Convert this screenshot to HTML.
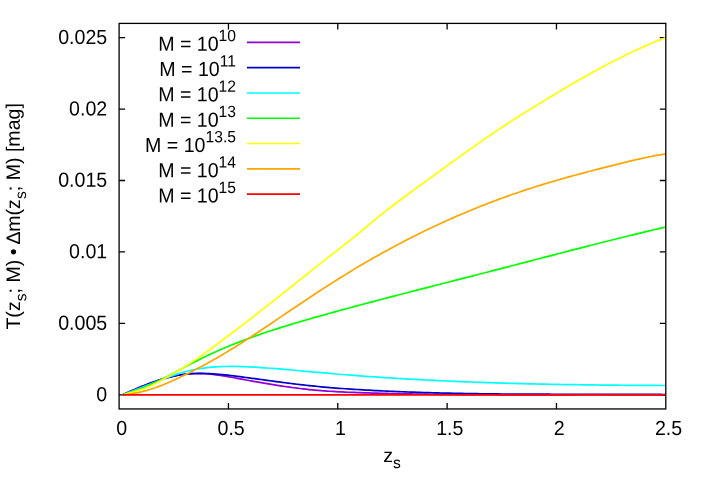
<!DOCTYPE html>
<html><head><meta charset="utf-8"><title>plot</title>
<style>html,body{margin:0;padding:0;background:#fff}svg{display:block;will-change:transform}text{font-family:"Liberation Sans",sans-serif;fill:#000}</style></head><body>
<svg width="701" height="491" viewBox="0 0 701 491">
<rect width="701" height="491" fill="#fff"/>
<path d="M119.10 394.80h6M665.80 394.80h-6M119.10 323.37h6M665.80 323.37h-6M119.10 251.94h6M665.80 251.94h-6M119.10 180.51h6M665.80 180.51h-6M119.10 109.08h6M665.80 109.08h-6M119.10 37.65h6M665.80 37.65h-6M228.44 408.95v-6M228.44 23.40v6M337.78 408.95v-6M337.78 23.40v6M447.12 408.95v-6M447.12 23.40v6M556.46 408.95v-6M556.46 23.40v6" stroke="#000" stroke-width="1.3" fill="none"/>
<text font-size="19.6" text-anchor="end" transform="translate(107.20 401.15) rotate(0.04) scale(1 1.04)">0</text>
<text font-size="19.6" text-anchor="end" transform="translate(107.20 329.72) rotate(0.04) scale(1 1.04)">0.005</text>
<text font-size="19.6" text-anchor="end" transform="translate(107.20 258.29) rotate(0.04) scale(1 1.04)">0.01</text>
<text font-size="19.6" text-anchor="end" transform="translate(107.20 186.86) rotate(0.04) scale(1 1.04)">0.015</text>
<text font-size="19.6" text-anchor="end" transform="translate(107.20 115.43) rotate(0.04) scale(1 1.04)">0.02</text>
<text font-size="19.6" text-anchor="end" transform="translate(107.20 44.00) rotate(0.04) scale(1 1.04)">0.025</text>
<text font-size="19.6" text-anchor="middle" transform="translate(121.80 435.00) rotate(0.04) scale(1 1.04)">0</text>
<text font-size="19.6" text-anchor="middle" transform="translate(231.14 435.00) rotate(0.04) scale(1 1.04)">0.5</text>
<text font-size="19.6" text-anchor="middle" transform="translate(340.48 435.00) rotate(0.04) scale(1 1.04)">1</text>
<text font-size="19.6" text-anchor="middle" transform="translate(449.82 435.00) rotate(0.04) scale(1 1.04)">1.5</text>
<text font-size="19.6" text-anchor="middle" transform="translate(559.16 435.00) rotate(0.04) scale(1 1.04)">2</text>
<text font-size="19.6" text-anchor="middle" transform="translate(668.50 435.00) rotate(0.04) scale(1 1.04)">2.5</text>
<path d="M123.0 394.60L126.0 393.22L129.0 391.86L132.0 390.51L135.0 389.19L138.0 387.90L141.0 386.64L144.0 385.42L147.0 384.23L150.0 383.09L153.0 382.00L156.0 380.96L159.0 379.97L162.0 379.04L165.0 378.17L168.0 377.37L171.0 376.64L174.0 375.98L177.0 375.40L180.0 374.90L183.0 374.47L186.0 374.13L189.0 373.87L192.0 373.69L195.0 373.59L198.0 373.56L201.0 373.61L204.0 373.73L207.0 373.93L210.0 374.18L213.0 374.49L216.0 374.86L219.0 375.26L222.0 375.71L225.0 376.19L228.0 376.69L231.0 377.22L234.0 377.76L237.0 378.31L240.0 378.87L243.0 379.42L246.0 379.97L249.0 380.52L252.0 381.06L255.0 381.59L258.0 382.12L261.0 382.65L264.0 383.16L267.0 383.67L270.0 384.17L273.0 384.66L276.0 385.14L279.0 385.61L282.0 386.06L285.0 386.51L288.0 386.94L291.0 387.36L294.0 387.76L297.0 388.15L300.0 388.52L303.0 388.87L306.0 389.21L309.0 389.53L312.0 389.83L315.0 390.11L318.0 390.38L321.0 390.62L324.0 390.86L327.0 391.07L330.0 391.27L333.0 391.46L336.0 391.64L339.0 391.80L342.0 391.95L345.0 392.09L348.0 392.23L351.0 392.35L354.0 392.47L357.0 392.58L360.0 392.68L363.0 392.78L366.0 392.87L369.0 392.96L372.0 393.04L375.0 393.13L378.0 393.21L381.0 393.29L384.0 393.36L387.0 393.44L390.0 393.51L393.0 393.58L396.0 393.64L399.0 393.71L402.0 393.77L405.0 393.83L408.0 393.89L411.0 393.94L414.0 393.99L417.0 394.04L420.0 394.09L423.0 394.14L426.0 394.19L429.0 394.23L432.0 394.27L435.0 394.31L438.0 394.35L441.0 394.38L444.0 394.42L447.0 394.45L450.0 394.48L453.0 394.51L456.0 394.54L459.0 394.56L462.0 394.59L465.0 394.61L468.0 394.63L471.0 394.65L474.0 394.67L477.0 394.69L480.0 394.70L483.0 394.72L486.0 394.73L489.0 394.75L492.0 394.76L495.0 394.77L498.0 394.78L501.0 394.79L504.0 394.79L507.0 394.80L510.0 394.81L513.0 394.81L516.0 394.81L519.0 394.82L522.0 394.82L525.0 394.82L528.0 394.82L531.0 394.82L534.0 394.82L537.0 394.82L540.0 394.82L543.0 394.82L546.0 394.82L549.0 394.81L552.0 394.81L555.0 394.81L558.0 394.80L561.0 394.80L564.0 394.80L567.0 394.79L570.0 394.79L573.0 394.78L576.0 394.78L579.0 394.77L582.0 394.77L585.0 394.76L588.0 394.76L591.0 394.76L594.0 394.75L597.0 394.75L600.0 394.74L603.0 394.74L606.0 394.74L609.0 394.73L612.0 394.73L615.0 394.73L618.0 394.73L621.0 394.73L624.0 394.73L627.0 394.73L630.0 394.73L633.0 394.73L636.0 394.73L639.0 394.74L642.0 394.74L645.0 394.74L648.0 394.75L651.0 394.76L654.0 394.76L657.0 394.77L660.0 394.78L663.0 394.79L665.8 394.80" stroke="#9400d3" stroke-width="1.7" fill="none" stroke-linejoin="round"/>
<path d="M123.0 394.60L126.0 393.34L129.0 392.07L132.0 390.80L135.0 389.54L138.0 388.28L141.0 387.05L144.0 385.84L147.0 384.65L150.0 383.50L153.0 382.38L156.0 381.31L159.0 380.29L162.0 379.32L165.0 378.42L168.0 377.57L171.0 376.80L174.0 376.11L177.0 375.50L180.0 374.97L183.0 374.53L186.0 374.16L189.0 373.88L192.0 373.66L195.0 373.51L198.0 373.43L201.0 373.40L204.0 373.43L207.0 373.51L210.0 373.64L213.0 373.82L216.0 374.03L219.0 374.28L222.0 374.56L225.0 374.87L228.0 375.21L231.0 375.56L234.0 375.93L237.0 376.32L240.0 376.71L243.0 377.10L246.0 377.50L249.0 377.90L252.0 378.31L255.0 378.71L258.0 379.12L261.0 379.53L264.0 379.94L267.0 380.35L270.0 380.75L273.0 381.15L276.0 381.55L279.0 381.95L282.0 382.34L285.0 382.73L288.0 383.12L291.0 383.49L294.0 383.86L297.0 384.22L300.0 384.58L303.0 384.92L306.0 385.26L309.0 385.59L312.0 385.90L315.0 386.21L318.0 386.50L321.0 386.78L324.0 387.06L327.0 387.32L330.0 387.58L333.0 387.82L336.0 388.06L339.0 388.29L342.0 388.52L345.0 388.73L348.0 388.94L351.0 389.14L354.0 389.33L357.0 389.52L360.0 389.70L363.0 389.88L366.0 390.05L369.0 390.22L372.0 390.38L375.0 390.54L378.0 390.69L381.0 390.84L384.0 390.99L387.0 391.13L390.0 391.26L393.0 391.40L396.0 391.52L399.0 391.65L402.0 391.77L405.0 391.89L408.0 392.00L411.0 392.11L414.0 392.21L417.0 392.32L420.0 392.41L423.0 392.51L426.0 392.60L429.0 392.69L432.0 392.77L435.0 392.86L438.0 392.94L441.0 393.01L444.0 393.08L447.0 393.15L450.0 393.22L453.0 393.29L456.0 393.35L459.0 393.41L462.0 393.46L465.0 393.52L468.0 393.57L471.0 393.61L474.0 393.66L477.0 393.70L480.0 393.75L483.0 393.79L486.0 393.82L489.0 393.86L492.0 393.89L495.0 393.92L498.0 393.95L501.0 393.98L504.0 394.01L507.0 394.03L510.0 394.05L513.0 394.07L516.0 394.09L519.0 394.11L522.0 394.13L525.0 394.14L528.0 394.16L531.0 394.17L534.0 394.18L537.0 394.19L540.0 394.20L543.0 394.21L546.0 394.22L549.0 394.22L552.0 394.23L555.0 394.23L558.0 394.24L561.0 394.24L564.0 394.25L567.0 394.25L570.0 394.25L573.0 394.26L576.0 394.26L579.0 394.26L582.0 394.26L585.0 394.26L588.0 394.26L591.0 394.27L594.0 394.27L597.0 394.27L600.0 394.27L603.0 394.27L606.0 394.28L609.0 394.28L612.0 394.28L615.0 394.29L618.0 394.29L621.0 394.30L624.0 394.30L627.0 394.31L630.0 394.32L633.0 394.33L636.0 394.34L639.0 394.35L642.0 394.36L645.0 394.37L648.0 394.39L651.0 394.40L654.0 394.42L657.0 394.44L660.0 394.46L663.0 394.48L665.8 394.50" stroke="#0000cd" stroke-width="1.7" fill="none" stroke-linejoin="round"/>
<path d="M123.0 394.70L126.0 393.53L129.0 392.36L132.0 391.19L135.0 390.03L138.0 388.87L141.0 387.71L144.0 386.55L147.0 385.39L150.0 384.22L153.0 383.06L156.0 381.89L159.0 380.71L162.0 379.55L165.0 378.40L168.0 377.27L171.0 376.18L174.0 375.13L177.0 374.13L180.0 373.19L183.0 372.32L186.0 371.51L189.0 370.78L192.0 370.12L195.0 369.52L198.0 368.98L201.0 368.50L204.0 368.07L207.0 367.70L210.0 367.39L213.0 367.12L216.0 366.90L219.0 366.72L222.0 366.59L225.0 366.49L228.0 366.44L231.0 366.42L234.0 366.43L237.0 366.47L240.0 366.54L243.0 366.63L246.0 366.75L249.0 366.89L252.0 367.04L255.0 367.22L258.0 367.40L261.0 367.60L264.0 367.80L267.0 368.02L270.0 368.24L273.0 368.47L276.0 368.70L279.0 368.94L282.0 369.19L285.0 369.45L288.0 369.70L291.0 369.96L294.0 370.23L297.0 370.50L300.0 370.77L303.0 371.04L306.0 371.31L309.0 371.59L312.0 371.86L315.0 372.14L318.0 372.41L321.0 372.68L324.0 372.95L327.0 373.21L330.0 373.47L333.0 373.73L336.0 373.99L339.0 374.24L342.0 374.48L345.0 374.73L348.0 374.97L351.0 375.20L354.0 375.43L357.0 375.66L360.0 375.89L363.0 376.11L366.0 376.32L369.0 376.54L372.0 376.75L375.0 376.96L378.0 377.16L381.0 377.36L384.0 377.56L387.0 377.75L390.0 377.94L393.0 378.13L396.0 378.32L399.0 378.50L402.0 378.68L405.0 378.85L408.0 379.03L411.0 379.20L414.0 379.36L417.0 379.53L420.0 379.69L423.0 379.85L426.0 380.00L429.0 380.16L432.0 380.31L435.0 380.45L438.0 380.60L441.0 380.74L444.0 380.88L447.0 381.01L450.0 381.15L453.0 381.28L456.0 381.41L459.0 381.53L462.0 381.66L465.0 381.78L468.0 381.90L471.0 382.01L474.0 382.13L477.0 382.24L480.0 382.35L483.0 382.45L486.0 382.56L489.0 382.66L492.0 382.76L495.0 382.85L498.0 382.95L501.0 383.04L504.0 383.13L507.0 383.22L510.0 383.31L513.0 383.39L516.0 383.47L519.0 383.55L522.0 383.63L525.0 383.71L528.0 383.78L531.0 383.86L534.0 383.93L537.0 383.99L540.0 384.06L543.0 384.13L546.0 384.19L549.0 384.25L552.0 384.31L555.0 384.37L558.0 384.42L561.0 384.48L564.0 384.53L567.0 384.58L570.0 384.63L573.0 384.68L576.0 384.72L579.0 384.77L582.0 384.81L585.0 384.85L588.0 384.89L591.0 384.93L594.0 384.97L597.0 385.00L600.0 385.04L603.0 385.07L606.0 385.10L609.0 385.13L612.0 385.16L615.0 385.19L618.0 385.22L621.0 385.24L624.0 385.27L627.0 385.29L630.0 385.31L633.0 385.33L636.0 385.35L639.0 385.37L642.0 385.39L645.0 385.41L648.0 385.42L651.0 385.44L654.0 385.45L657.0 385.47L660.0 385.48L663.0 385.49L665.8 385.50" stroke="#00ffff" stroke-width="1.7" fill="none" stroke-linejoin="round"/>
<path d="M123.0 394.70L126.0 393.82L129.0 392.89L132.0 391.91L135.0 390.89L138.0 389.81L141.0 388.68L144.0 387.50L147.0 386.27L150.0 384.98L153.0 383.63L156.0 382.23L159.0 380.77L162.0 379.26L165.0 377.72L168.0 376.14L171.0 374.53L174.0 372.91L177.0 371.27L180.0 369.64L183.0 368.01L186.0 366.39L189.0 364.79L192.0 363.22L195.0 361.67L198.0 360.16L201.0 358.68L204.0 357.22L207.0 355.79L210.0 354.39L213.0 353.02L216.0 351.67L219.0 350.34L222.0 349.04L225.0 347.76L228.0 346.51L231.0 345.28L234.0 344.07L237.0 342.88L240.0 341.71L243.0 340.57L246.0 339.44L249.0 338.33L252.0 337.24L255.0 336.16L258.0 335.11L261.0 334.06L264.0 333.04L267.0 332.03L270.0 331.03L273.0 330.05L276.0 329.08L279.0 328.13L282.0 327.18L285.0 326.25L288.0 325.33L291.0 324.42L294.0 323.52L297.0 322.62L300.0 321.74L303.0 320.86L306.0 319.99L309.0 319.13L312.0 318.27L315.0 317.42L318.0 316.57L321.0 315.73L324.0 314.89L327.0 314.05L330.0 313.22L333.0 312.39L336.0 311.56L339.0 310.74L342.0 309.92L345.0 309.10L348.0 308.28L351.0 307.47L354.0 306.66L357.0 305.86L360.0 305.05L363.0 304.25L366.0 303.45L369.0 302.65L372.0 301.86L375.0 301.07L378.0 300.28L381.0 299.49L384.0 298.70L387.0 297.92L390.0 297.14L393.0 296.35L396.0 295.57L399.0 294.80L402.0 294.02L405.0 293.24L408.0 292.47L411.0 291.70L414.0 290.92L417.0 290.15L420.0 289.38L423.0 288.61L426.0 287.84L429.0 287.08L432.0 286.31L435.0 285.54L438.0 284.77L441.0 284.01L444.0 283.24L447.0 282.48L450.0 281.71L453.0 280.94L456.0 280.18L459.0 279.41L462.0 278.64L465.0 277.88L468.0 277.11L471.0 276.34L474.0 275.57L477.0 274.80L480.0 274.03L483.0 273.26L486.0 272.49L489.0 271.72L492.0 270.94L495.0 270.17L498.0 269.39L501.0 268.62L504.0 267.84L507.0 267.06L510.0 266.28L513.0 265.50L516.0 264.72L519.0 263.94L522.0 263.16L525.0 262.38L528.0 261.59L531.0 260.81L534.0 260.03L537.0 259.25L540.0 258.47L543.0 257.69L546.0 256.91L549.0 256.13L552.0 255.35L555.0 254.57L558.0 253.79L561.0 253.01L564.0 252.23L567.0 251.46L570.0 250.68L573.0 249.91L576.0 249.14L579.0 248.37L582.0 247.60L585.0 246.83L588.0 246.06L591.0 245.30L594.0 244.53L597.0 243.77L600.0 243.01L603.0 242.25L606.0 241.50L609.0 240.74L612.0 239.99L615.0 239.24L618.0 238.50L621.0 237.75L624.0 237.01L627.0 236.27L630.0 235.54L633.0 234.80L636.0 234.07L639.0 233.35L642.0 232.62L645.0 231.90L648.0 231.19L651.0 230.47L654.0 229.76L657.0 229.05L660.0 228.35L663.0 227.65L665.8 227.00" stroke="#00ff00" stroke-width="1.7" fill="none" stroke-linejoin="round"/>
<path d="M123.0 394.80L126.0 393.97L129.0 393.14L132.0 392.30L135.0 391.42L138.0 390.50L141.0 389.51L144.0 388.44L147.0 387.27L150.0 385.99L153.0 384.61L156.0 383.14L159.0 381.60L162.0 380.00L165.0 378.37L168.0 376.71L171.0 375.03L174.0 373.31L177.0 371.55L180.0 369.76L183.0 367.93L186.0 366.05L189.0 364.13L192.0 362.16L195.0 360.14L198.0 358.08L201.0 355.97L204.0 353.84L207.0 351.68L210.0 349.48L213.0 347.27L216.0 345.04L219.0 342.80L222.0 340.55L225.0 338.30L228.0 336.03L231.0 333.76L234.0 331.48L237.0 329.20L240.0 326.91L243.0 324.61L246.0 322.30L249.0 319.99L252.0 317.67L255.0 315.35L258.0 313.02L261.0 310.68L264.0 308.33L267.0 305.98L270.0 303.63L273.0 301.26L276.0 298.90L279.0 296.52L282.0 294.14L285.0 291.75L288.0 289.36L291.0 286.97L294.0 284.57L297.0 282.17L300.0 279.77L303.0 277.38L306.0 274.98L309.0 272.59L312.0 270.19L315.0 267.81L318.0 265.43L321.0 263.06L324.0 260.69L327.0 258.33L330.0 255.98L333.0 253.65L336.0 251.32L339.0 249.01L342.0 246.70L345.0 244.38L348.0 242.04L351.0 239.67L354.0 237.24L357.0 234.78L360.0 232.28L363.0 229.77L366.0 227.25L369.0 224.72L372.0 222.21L375.0 219.71L378.0 217.24L381.0 214.81L384.0 212.43L387.0 210.08L390.0 207.76L393.0 205.47L396.0 203.20L399.0 200.95L402.0 198.71L405.0 196.49L408.0 194.27L411.0 192.05L414.0 189.85L417.0 187.65L420.0 185.46L423.0 183.27L426.0 181.09L429.0 178.91L432.0 176.73L435.0 174.55L438.0 172.37L441.0 170.20L444.0 168.02L447.0 165.84L450.0 163.67L453.0 161.50L456.0 159.33L459.0 157.16L462.0 155.01L465.0 152.85L468.0 150.71L471.0 148.57L474.0 146.45L477.0 144.33L480.0 142.23L483.0 140.13L486.0 138.06L489.0 135.99L492.0 133.95L495.0 131.91L498.0 129.90L501.0 127.90L504.0 125.93L507.0 123.97L510.0 122.03L513.0 120.10L516.0 118.19L519.0 116.29L522.0 114.40L525.0 112.53L528.0 110.66L531.0 108.80L534.0 106.96L537.0 105.11L540.0 103.28L543.0 101.45L546.0 99.62L549.0 97.80L552.0 95.99L555.0 94.19L558.0 92.39L561.0 90.60L564.0 88.82L567.0 87.04L570.0 85.28L573.0 83.53L576.0 81.79L579.0 80.06L582.0 78.35L585.0 76.64L588.0 74.95L591.0 73.28L594.0 71.61L597.0 69.97L600.0 68.33L603.0 66.72L606.0 65.12L609.0 63.54L612.0 61.97L615.0 60.43L618.0 58.90L621.0 57.40L624.0 55.91L627.0 54.44L630.0 53.00L633.0 51.58L636.0 50.17L639.0 48.80L642.0 47.44L645.0 46.11L648.0 44.81L651.0 43.53L654.0 42.27L657.0 41.04L660.0 39.84L663.0 38.67L665.8 37.60" stroke="#ffff00" stroke-width="1.7" fill="none" stroke-linejoin="round"/>
<path d="M123.0 394.80L126.0 394.51L129.0 394.15L132.0 393.71L135.0 393.19L138.0 392.61L141.0 391.94L144.0 391.20L147.0 390.39L150.0 389.50L153.0 388.54L156.0 387.51L159.0 386.40L162.0 385.23L165.0 384.00L168.0 382.73L171.0 381.41L174.0 380.06L177.0 378.68L180.0 377.27L183.0 375.84L186.0 374.38L189.0 372.90L192.0 371.38L195.0 369.85L198.0 368.28L201.0 366.69L204.0 365.08L207.0 363.44L210.0 361.78L213.0 360.10L216.0 358.39L219.0 356.66L222.0 354.90L225.0 353.12L228.0 351.33L231.0 349.51L234.0 347.66L237.0 345.80L240.0 343.92L243.0 342.02L246.0 340.10L249.0 338.16L252.0 336.20L255.0 334.23L258.0 332.25L261.0 330.26L264.0 328.25L267.0 326.24L270.0 324.22L273.0 322.20L276.0 320.16L279.0 318.13L282.0 316.09L285.0 314.06L288.0 312.02L291.0 309.99L294.0 307.96L297.0 305.94L300.0 303.92L303.0 301.92L306.0 299.92L309.0 297.92L312.0 295.94L315.0 293.97L318.0 292.01L321.0 290.06L324.0 288.12L327.0 286.19L330.0 284.27L333.0 282.36L336.0 280.47L339.0 278.59L342.0 276.72L345.0 274.86L348.0 273.02L351.0 271.19L354.0 269.38L357.0 267.58L360.0 265.79L363.0 264.02L366.0 262.27L369.0 260.53L372.0 258.81L375.0 257.10L378.0 255.41L381.0 253.73L384.0 252.07L387.0 250.42L390.0 248.79L393.0 247.17L396.0 245.57L399.0 243.98L402.0 242.41L405.0 240.85L408.0 239.31L411.0 237.78L414.0 236.26L417.0 234.76L420.0 233.28L423.0 231.81L426.0 230.35L429.0 228.91L432.0 227.48L435.0 226.07L438.0 224.67L441.0 223.29L444.0 221.92L447.0 220.56L450.0 219.22L453.0 217.90L456.0 216.58L459.0 215.28L462.0 214.00L465.0 212.73L468.0 211.47L471.0 210.23L474.0 209.00L477.0 207.78L480.0 206.58L483.0 205.39L486.0 204.21L489.0 203.05L492.0 201.90L495.0 200.77L498.0 199.65L501.0 198.54L504.0 197.45L507.0 196.37L510.0 195.30L513.0 194.24L516.0 193.20L519.0 192.18L522.0 191.16L525.0 190.16L528.0 189.17L531.0 188.19L534.0 187.23L537.0 186.28L540.0 185.35L543.0 184.42L546.0 183.51L549.0 182.61L552.0 181.72L555.0 180.84L558.0 179.98L561.0 179.12L564.0 178.27L567.0 177.43L570.0 176.60L573.0 175.78L576.0 174.96L579.0 174.16L582.0 173.36L585.0 172.56L588.0 171.77L591.0 170.99L594.0 170.21L597.0 169.43L600.0 168.66L603.0 167.89L606.0 167.12L609.0 166.36L612.0 165.60L615.0 164.84L618.0 164.08L621.0 163.33L624.0 162.59L627.0 161.86L630.0 161.14L633.0 160.43L636.0 159.73L639.0 159.05L642.0 158.39L645.0 157.74L648.0 157.11L651.0 156.51L654.0 155.93L657.0 155.37L660.0 154.84L663.0 154.34L665.8 153.90" stroke="#ffa500" stroke-width="1.7" fill="none" stroke-linejoin="round"/>
<path d="M123.0 394.8L665.8 394.8" stroke="#ff0000" stroke-width="1.7" fill="none" stroke-linejoin="round"/>
<text font-size="19.6" text-anchor="end" transform="translate(236.00 50.80) rotate(0.04) scale(1 1.04)">M = 10<tspan dy="-9.3" font-size="15.68">10</tspan></text>
<path d="M247 42.35H300" stroke="#9400d3" stroke-width="1.6" fill="none"/>
<text font-size="19.6" text-anchor="end" transform="translate(236.00 76.10) rotate(0.04) scale(1 1.04)">M = 10<tspan dy="-9.3" font-size="15.68">11</tspan></text>
<path d="M247 67.65H300" stroke="#0000cd" stroke-width="1.6" fill="none"/>
<text font-size="19.6" text-anchor="end" transform="translate(236.00 101.40) rotate(0.04) scale(1 1.04)">M = 10<tspan dy="-9.3" font-size="15.68">12</tspan></text>
<path d="M247 92.95H300" stroke="#00ffff" stroke-width="1.6" fill="none"/>
<text font-size="19.6" text-anchor="end" transform="translate(236.00 126.70) rotate(0.04) scale(1 1.04)">M = 10<tspan dy="-9.3" font-size="15.68">13</tspan></text>
<path d="M247 118.25H300" stroke="#00ff00" stroke-width="1.6" fill="none"/>
<text font-size="19.6" text-anchor="end" transform="translate(236.00 152.00) rotate(0.04) scale(1 1.04)">M = 10<tspan dy="-9.3" font-size="15.68">13.5</tspan></text>
<path d="M247 143.55H300" stroke="#ffff00" stroke-width="1.6" fill="none"/>
<text font-size="19.6" text-anchor="end" transform="translate(236.00 177.30) rotate(0.04) scale(1 1.04)">M = 10<tspan dy="-9.3" font-size="15.68">14</tspan></text>
<path d="M247 168.85H300" stroke="#ffa500" stroke-width="1.6" fill="none"/>
<text font-size="19.6" text-anchor="end" transform="translate(236.00 202.60) rotate(0.04) scale(1 1.04)">M = 10<tspan dy="-9.3" font-size="15.68">15</tspan></text>
<path d="M247 194.15H300" stroke="#ff0000" stroke-width="1.6" fill="none"/>
<rect x="119.10" y="23.40" width="546.70" height="385.55" fill="none" stroke="#000" stroke-width="1.3"/>
<text font-size="19.6" text-anchor="middle" transform="translate(392.00 462.10) rotate(0.04) scale(1 1)">z<tspan dy="5.9" font-size="15.68">s</tspan></text>
<text transform="translate(20.0 329.6) rotate(-90.04)" font-size="19.6">T(z<tspan dy="6.2" font-size="15.68">s</tspan><tspan dy="-6.2">; M) </tspan><tspan dx="-1">•</tspan> <tspan dx="-1.5">Δ</tspan><tspan dx="-0.4">m(z</tspan><tspan dy="6.2" font-size="15.68">s</tspan><tspan dy="-6.2">; M) [mag]</tspan></text>
</svg></body></html>
